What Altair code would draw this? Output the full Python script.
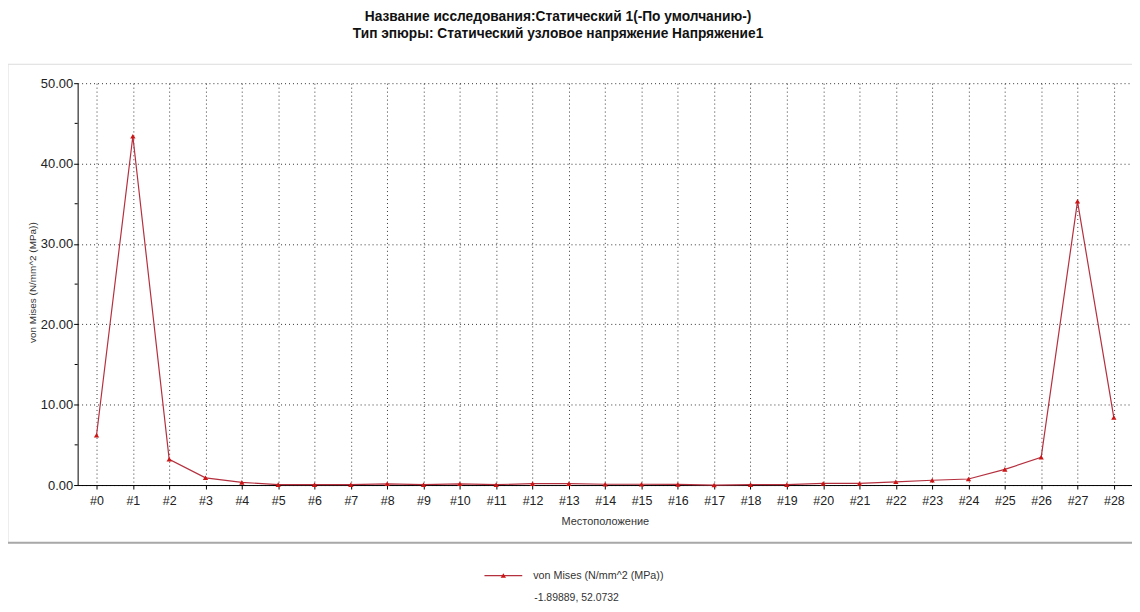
import altair as alt
import pandas as pd

positions = list(range(29))
labels = ["#" + str(i) for i in positions]
von_mises = [6.2, 43.4, 3.2, 0.9, 0.33, 0.05, 0.05, 0.05, 0.15, 0.05,
             0.15, 0.05, 0.18, 0.18, 0.1, 0.1, 0.08, 0.0, 0.05, 0.05,
             0.2, 0.2, 0.4, 0.6, 0.75, 1.95, 3.45, 35.3, 8.4]
y_ticks = [0, 10, 20, 30, 40, 50]
y_minor = [5, 15, 25, 35, 45]

title_lines = ["Название исследования:Статический 1(-По умолчанию-)",
               "Тип эпюры: Статический узловое напряжение Напряжение1"]
legend_label = "von Mises (N/mm^2 (MPa))"
coords_text = "-1.89889, 52.0732"

df = pd.DataFrame({"pos": positions, "label": labels, "v": von_mises})
minor_df = pd.DataFrame({"v": y_minor})

FONT = "Liberation Sans"
W, H = 1060, 404

xscale = alt.Scale(domain=[-0.52, 28.5], nice=False, zero=False)
yscale = alt.Scale(domain=[0, 50], nice=False)

xaxis = alt.Axis(values=positions, tickCount=29, labelExpr="'#' + datum.value", title="Местоположение",
                 labelOverlap=False, labelBound=False, labelFlush=False,
                 grid=True, gridColor="#000000", gridDash=[1, 3], gridOpacity=0.8,
                 domainColor="#000000", tickColor="#000000", tickSize=4,
                 labelFont=FONT, labelFontSize=12.5, labelColor="#222222", labelPadding=6,
                 titleFont=FONT, titleFontSize=11, titleFontWeight="normal", titleColor="#333333",
                 titlePadding=8)
yaxis = alt.Axis(values=y_ticks, format=".2f", title="von Mises (N/mm^2 (MPa))",
                 labelOverlap=False,
                 grid=True, gridColor="#000000", gridDash=[1, 3], gridOpacity=0.8,
                 domainColor="#000000", tickColor="#000000", tickSize=4,
                 labelFont=FONT, labelFontSize=13, labelColor="#222222", labelPadding=1,
                 titleFont=FONT, titleFontSize=10, titleFontWeight="normal", titleColor="#333333",
                 titleX=-45, titleY=200, titleAngle=270, titleBaseline="middle", titleAlign="center")

line = alt.Chart(df).mark_line(color="#b5303f", strokeWidth=1.2).encode(
    x=alt.X("pos:Q", scale=xscale, axis=xaxis),
    y=alt.Y("v:Q", scale=yscale, axis=yaxis),
)
pts = alt.Chart(df).mark_point(shape="triangle-up", filled=True, color="#cc1515", size=28, opacity=1).encode(
    x=alt.X("pos:Q", scale=xscale, axis=xaxis),
    y=alt.Y("v:Q", scale=yscale, axis=yaxis),
)
minor = alt.Chart(minor_df).mark_rule(color="#000000", strokeWidth=1).encode(
    y=alt.Y("v:Q", scale=yscale, axis=yaxis), x=alt.value(-3), x2=alt.value(0)
)

# frame
frame = alt.Chart(pd.DataFrame({"a": [0]})).mark_rect(
    fill="transparent", stroke="#dcdcdc", strokeWidth=1).encode(
    x=alt.value(-70), x2=alt.value(1070), y=alt.value(-19), y2=alt.value(462))
frame_bottom = alt.Chart(pd.DataFrame({"a": [0]})).mark_rule(
    color="#a8a8a8", strokeWidth=2).encode(
    x=alt.value(-70), x2=alt.value(1070), y=alt.value(462))

t1 = alt.Chart(pd.DataFrame({"t": [title_lines[0]]})).mark_text(
    font=FONT, fontSize=13.8, fontWeight="bold", color="#111111", align="center", baseline="middle").encode(
    text="t:N", x=alt.value(483), y=alt.value(-67))
t2 = alt.Chart(pd.DataFrame({"t": [title_lines[1]]})).mark_text(
    font=FONT, fontSize=13.8, fontWeight="bold", color="#111111", align="center", baseline="middle").encode(
    text="t:N", x=alt.value(483), y=alt.value(-49))

leg_line = alt.Chart(pd.DataFrame({"a": [0]})).mark_rule(color="#b5303f", strokeWidth=1.2).encode(
    x=alt.value(409), x2=alt.value(447), y=alt.value(495))
leg_pt = alt.Chart(pd.DataFrame({"a": [0]})).mark_point(
    shape="triangle-up", filled=True, color="#cc1515", size=28, opacity=1).encode(
    x=alt.value(428), y=alt.value(495))
leg_txt = alt.Chart(pd.DataFrame({"t": [legend_label]})).mark_text(
    font=FONT, fontSize=10.8, color="#333333", align="left", baseline="middle").encode(
    text="t:N", x=alt.value(458), y=alt.value(495))
coords = alt.Chart(pd.DataFrame({"t": [coords_text]})).mark_text(
    font=FONT, fontSize=10.5, color="#333333", align="left", baseline="middle").encode(
    text="t:N", x=alt.value(459), y=alt.value(518))

chart = alt.layer(frame, frame_bottom, minor, line, pts, t1, t2, leg_line, leg_pt, leg_txt, coords).properties(
    width=W, height=H,
    autosize=alt.AutoSizeParams(type="none"),
    padding={"left": 70, "top": 74, "right": 0, "bottom": 118},
    background="white",
).configure_view(stroke=None)

chart.save("out.html", embed_options={"renderer": "svg", "actions": False})
